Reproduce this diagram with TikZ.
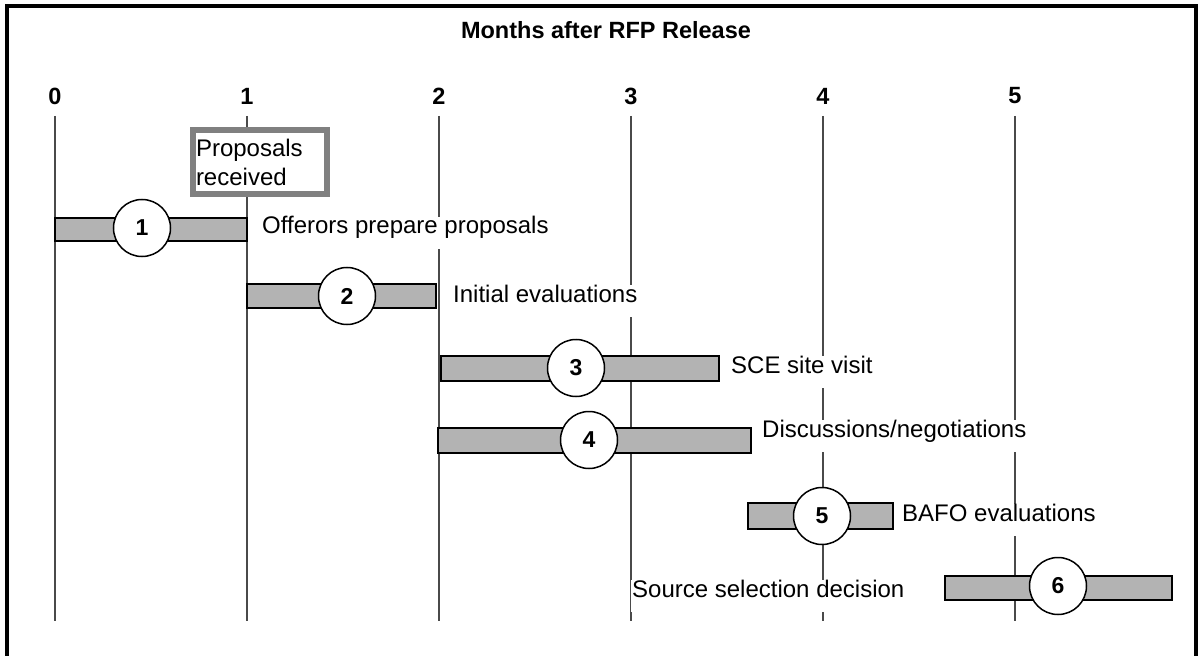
\documentclass[tikz,border=0pt]{standalone}
\usepackage{fontspec}
\setmainfont{Liberation Sans}
\definecolor{barfill}{HTML}{B3B3B3}
\definecolor{linegray}{HTML}{4A4A4A}
\definecolor{boxgray}{HTML}{808080}
\begin{document}
\begin{tikzpicture}[x=1bp,y=-1bp,
  vline/.style={draw=linegray, line width=2bp},
  bar/.style={draw=black, fill=barfill, line width=1.5bp},
  num/.style={circle, draw=black, fill=white, line width=1.5bp, minimum size=57bp, inner sep=0pt, font=\bfseries\fontsize{23bp}{26bp}\selectfont},
  lbl/.style={fill=white, anchor=base west, inner xsep=1bp, inner ysep=0pt, text height=17bp, text depth=15bp, font=\fontsize{24bp}{28bp}\selectfont},
  tick/.style={font=\bfseries\fontsize{23.5bp}{26bp}\selectfont},
  frame/.style={draw=black, line width=4bp, line join=miter}]
\useasboundingbox (0,0) rectangle (1198,656);
% frame (bottom edge lies outside the picture)
\draw[frame] (7,670) -- (7,6) -- (1196,6) -- (1196,670);
% title
\node[tick] (title) at (606,30) {Months after RFP Release};
% month lines and labels
\foreach \k in {0,...,5}{
  \draw[vline] ({55+192*\k},116) -- ({55+192*\k},621);
  \node[tick] (t\k) at ({55+192*\k},96) {\k};
}
% bars
\draw[bar] (55,218) rectangle (247,241);
\draw[bar] (247,284) rectangle (436,308);
\draw[bar] (441,356) rectangle (719,381);
\draw[bar] (438,428) rectangle (751,453);
\draw[bar] (748,503) rectangle (893,529);
\draw[bar] (945,576) rectangle (1172,600);
% circles
\node[num] (c1) at (142,228) {1};
\node[num] (c2) at (347,296) {2};
\node[num] (c3) at (576,368) {3};
\node[num] (c4) at (589,440) {4};
\node[num] (c5) at (822,516) {5};
\node[num] (c6) at (1058,586) {6};
% labels
\node[lbl] (l1) at (261,234) {Offerors prepare proposals};
\node[lbl] (l2) at (452,302) {Initial evaluations};
\node[lbl] (l3) at (730,373) {SCE site visit};
\node[lbl] (l4) at (761,437) {Discussions/negotiations};
\node[lbl] (l5) at (901,521) {BAFO evaluations};
\node[lbl] (l6) at (631,597) {Source selection decision};
% proposals received box
\node[draw=boxgray, line width=6bp, fill=white, minimum width=134bp, minimum height=64bp,
      text width=128bp, inner xsep=3bp, inner ysep=0pt, align=left,
      font=\fontsize{24bp}{29bp}\selectfont] (prop) at (260,162) {Proposals\\received};
\end{tikzpicture}
\end{document}
